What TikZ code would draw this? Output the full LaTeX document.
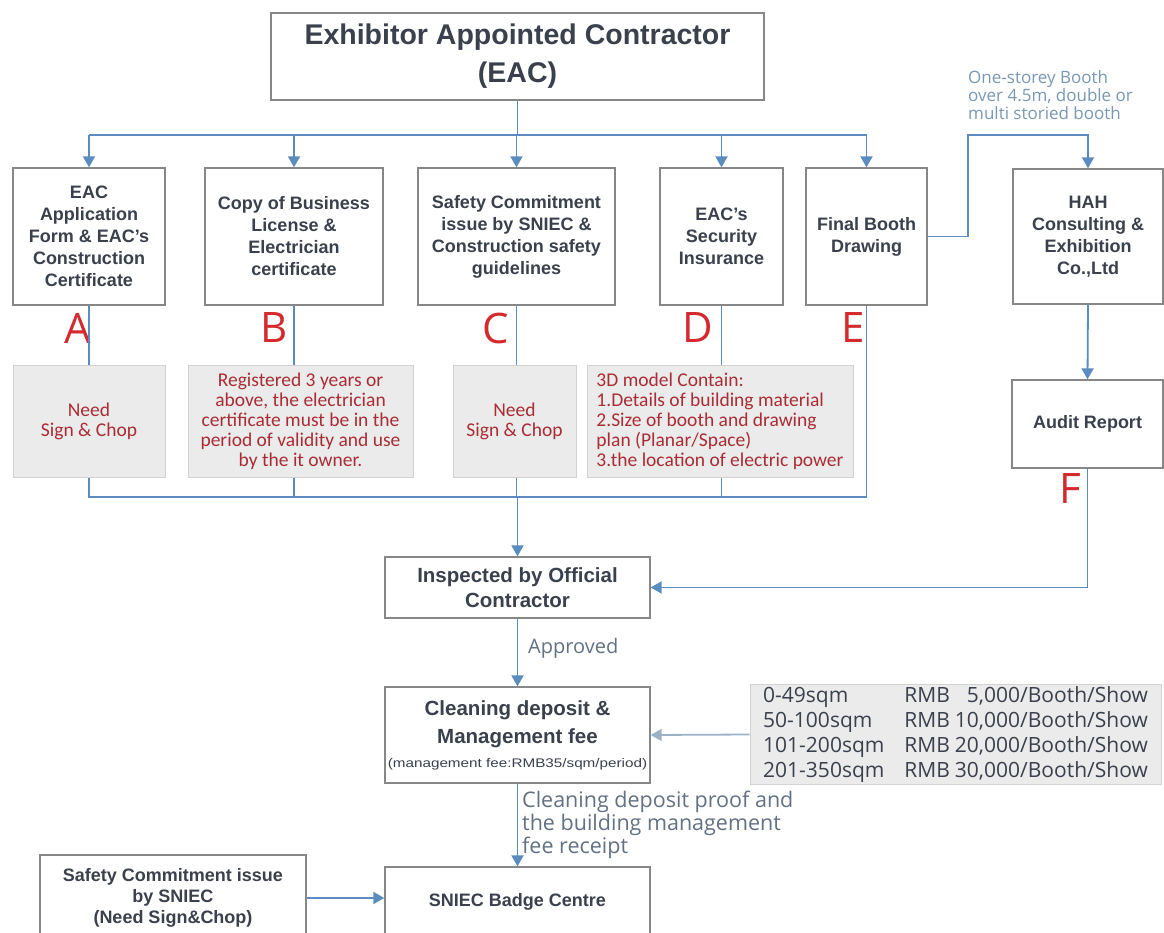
\documentclass[tikz,border=0pt]{standalone}
\usepackage{fontspec}
\setmainfont{Liberation Sans}
\newfontfamily\notyazi{Open Sans}
\newfontfamily\kirmiziyazi{Carlito}
\usetikzlibrary{arrows.meta}
\definecolor{hatMavi}{HTML}{5A8CC0}
\definecolor{hatAcik}{HTML}{9DB2C6}
\definecolor{kutuCizgi}{HTML}{878787}
\definecolor{yaziKoyu}{HTML}{3A404C}
\definecolor{notGri}{HTML}{EBEBEB}
\definecolor{notCizgi}{HTML}{D2D2D2}
\definecolor{notKirmizi}{HTML}{AA2C34}
\definecolor{harfKirmizi}{HTML}{D42A2E}
\definecolor{etiketMavi}{HTML}{7898B4}
\definecolor{etiketGri}{HTML}{637184}

\begin{document}
\begin{tikzpicture}[x=1pt,y=-1pt,
  kutu/.style={draw=kutuCizgi,line width=1.3pt,fill=white,inner sep=0pt,align=center,text=yaziKoyu,font=\bfseries\fontsize{18}{22}\selectfont},
  notkutu/.style={draw=notCizgi,line width=1pt,fill=notGri,inner sep=0pt,align=center,text=notKirmizi,font=\kirmiziyazi\fontsize{19.5}{20}\selectfont},
  harf/.style={text=harfKirmizi,font=\notyazi\fontsize{42}{42}\selectfont,inner sep=0pt},
  hat/.style={draw=hatMavi,line width=1.8pt},
  ok/.style={hat,-{Triangle[width=12pt,length=11pt]}},
  etiket/.style={text=etiketGri,font=\notyazi\fontsize{20}{23}\selectfont,inner sep=0pt,align=left}]

\fill[white] (0,0) rectangle (1164,933);
\useasboundingbox (0,0) rectangle (1164,933);

\node[kutu,minimum width=493pt,minimum height=87pt,font=\bfseries\fontsize{28.5}{38}\selectfont] (eac) at (517.5,56.5) {Exhibitor Appointed Contractor\\(EAC)};

\node[kutu,minimum width=152pt,minimum height=137pt] (a) at (89,236.5) {EAC\\Application\\Form \& EAC's\\Construction\\Certificate};
\node[kutu,minimum width=178pt,minimum height=137pt] (b) at (294,236.5) {Copy of Business\\License \&\\Electrician\\certificate};
\node[kutu,minimum width=197pt,minimum height=137pt] (c) at (516.5,236.5) {Safety Commitment\\issue by SNIEC \&\\Construction safety\\guidelines};
\node[kutu,minimum width=123pt,minimum height=137pt] (d) at (721.5,236.5) {EAC's\\Security\\Insurance};
\node[kutu,minimum width=121pt,minimum height=137pt] (e) at (866.5,236.5) {Final Booth\\Drawing};
\node[kutu,minimum width=150pt,minimum height=135pt] (hah) at (1088,236.5) {HAH\\Consulting \&\\Exhibition\\Co.,Ltd};
\node[kutu,minimum width=151pt,minimum height=88pt] (audit) at (1087.5,424) {Audit Report};

\node[notkutu,minimum width=152pt,minimum height=112pt] (nA) at (89,421) {Need\\Sign \& Chop};
\node[notkutu,minimum width=225pt,minimum height=112pt] (nB) at (300.5,421) {Registered 3 years or\\above, the electrician\\certificate must be in the\\period of validity and use\\by the it owner.};
\node[notkutu,minimum width=123pt,minimum height=112pt] (nC) at (514.5,421) {Need\\Sign \& Chop};
\node[notkutu,minimum width=266pt,minimum height=112pt,align=left] (nD) at (720,421) {3D model Contain:\\1.Details of building material\\2.Size of booth and drawing\\plan (Planar/Space)\\3.the location of electric power};

\node[harf] (harfA) at (78,328) {A};
\node[harf] (harfB) at (274,328) {B};
\node[harf] (harfC) at (496,328) {C};
\node[harf] (harfD) at (698,328) {D};
\node[harf] (harfE) at (853,328) {E};
\node[harf] (harfF) at (1070,489) {F};

\node[kutu,minimum width=265pt,minimum height=61pt,font=\bfseries\fontsize{20.5}{25}\selectfont] (ins) at (517.5,587.5) {Inspected by Official\\Contractor};
\node[kutu,minimum width=265pt,minimum height=96pt,font=\bfseries\fontsize{20.5}{24}\selectfont] (clean) at (517.5,735) {Cleaning deposit \&\\[4pt]Management fee\\{\mdseries\fontsize{12.5}{15}\selectfont\scalebox{1.22}[1]{(management fee:RMB35/sqm/period)}}};
\node[kutu,minimum width=265pt,minimum height=72pt] (badge) at (517.5,903) {\raisebox{6pt}{SNIEC Badge Centre}};
\node[kutu,minimum width=266pt,minimum height=86pt,font=\bfseries\fontsize{18}{21}\selectfont] (sol) at (173,898) {Safety Commitment issue\\by SNIEC\\(Need Sign\&Chop)};

\node[notkutu,minimum width=411pt,minimum height=99pt,text=yaziKoyu,font=\notyazi\fontsize{21}{25}\selectfont] (fiyat) at (955.5,734.5) {\begin{tabular}{@{}l@{\hspace{20pt}}l@{\hspace{5pt}}r@{}l@{}}
0-49sqm & RMB & 5,000 & /Booth/Show\\
50-100sqm & RMB & 10,000 & /Booth/Show\\
101-200sqm & RMB & 20,000 & /Booth/Show\\
201-350sqm & RMB & 30,000 & /Booth/Show
\end{tabular}};

\node[etiket,anchor=west] (onay) at (528,648) {Approved};
\node[etiket,anchor=north west,font=\notyazi\fontsize{21.5}{23}\selectfont] (makbuz) at (522,791) {Cleaning deposit proof and\\the building management\\fee receipt};
\node[etiket,anchor=north west,text=etiketMavi,font=\notyazi\fontsize{17}{18}\selectfont] (kat) at (968,70) {One-storey Booth\\over 4.5m, double or\\multi storied booth};

\coordinate (ustHat) at (517.5,135);
\coordinate (altHat) at (517.5,497);
\coordinate (donus) at (968,135);

\draw[hat] (eac.south) -- (ustHat);
\draw[hat] (a.north |- ustHat) -- (e.north |- ustHat);
\foreach \k in {a,b,c,d,e}
  \draw[ok] (\k.north |- ustHat) -- (\k.north);

\draw[hat] (a.south) -- (nA.north);
\draw[hat] (b.south) -- (b.south |- nB.north);
\draw[hat] (c.south) -- (c.south |- nC.north);
\draw[hat] (d.south) -- (d.south |- nD.north);
\draw[hat] (nA.south) -- (nA.south |- altHat) -- (e.south |- altHat) -- (e.south);
\draw[hat] (b.south |- nB.south) -- (b.south |- altHat);
\draw[hat] (c.south |- nC.south) -- (c.south |- altHat);
\draw[hat] (d.south |- nD.south) -- (d.south |- altHat);
\draw[ok] (altHat) -- (ins.north);

\draw[ok] (e.east) -| (donus) -| (hah.north);
\draw[ok] (hah.south) -- (audit.north);
\draw[ok] (audit.south) |- (ins.east);

\draw[ok] (ins.south) -- (clean.north);
\draw[ok,draw=hatAcik] (fiyat.west) -- (clean.east);
\draw[ok] (clean.south) -- (badge.north);
\draw[ok] (sol.east) -- (sol.east -| badge.west);
\end{tikzpicture}
\end{document}
